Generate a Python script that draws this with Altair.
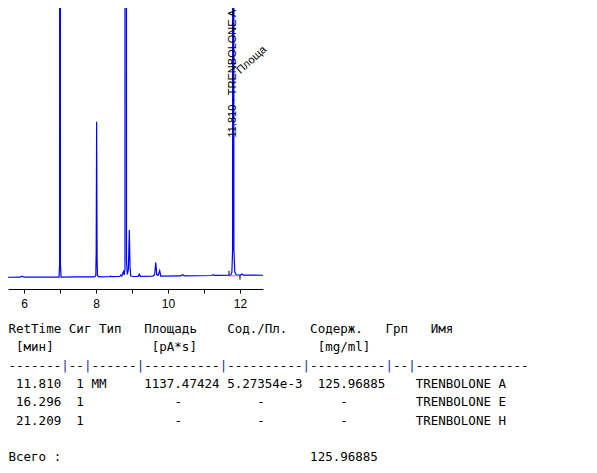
import altair as alt
import pandas as pd

# ---------------- chromatogram (time in min, signal in pA) ----------------
sig_t = [5.556, 5.90, 5.95, 6.00, 6.50, 6.975, 6.99, 6.997, 7.004, 7.012, 7.03,
         7.50, 7.96, 7.995, 8.006, 8.018, 8.03, 8.042, 8.08, 8.38, 8.40, 8.42,
         8.66, 8.69, 8.72, 8.76, 8.785, 8.805, 8.815, 8.835, 8.848, 8.87, 8.90,
         8.926, 8.945, 8.965, 9.05, 9.17, 9.20, 9.23, 9.58, 9.63, 9.66, 9.69,
         9.73, 9.77, 9.80, 10.35, 10.40, 10.45, 11.20, 11.25, 11.30, 11.74,
         11.775, 11.795, 11.803, 11.818, 11.83, 11.855, 11.90, 12.02, 12.05,
         12.09, 12.639]
sig_v = [4.18, 4.20, 4.55, 4.20, 4.22, 4.25, 9.0, 1000, 1000, 9.0, 4.25,
         4.28, 4.30, 4.8, 13.0, 59.5, 11.0, 4.7, 4.35, 4.40, 4.6, 4.40,
         4.45, 5.0, 4.6, 6.2, 5.0, 7.0, 1000, 1000, 10.0, 5.2, 7.0,
         21.0, 8.0, 4.6, 4.45, 4.5, 5.3, 4.5, 4.55, 5.2, 9.4, 5.0,
         4.9, 6.5, 4.6, 4.65, 5.1, 4.7, 4.8, 5.05, 4.85, 4.9,
         6.0, 14.0, 1000, 1000, 14.0, 6.0, 5.0, 4.95, 5.3,
         4.95, 4.9]

# integration baseline of the identified peak
int_t = [11.694, 12.0]
int_v = [4.7, 4.7]

# peak start / end markers
mark_t = [11.694, 12.0]
mark_top = [6.5, 5.0]
mark_bot = [4.7, 3.3]

# peak annotations
peak_lbl_t = [11.81]
peak_lbl_v = [53.9]
peak_lbl_text = ["11.810 - TRENBOLONE A"]
area_lbl_t = [11.958]
area_lbl_v = [77.2]
area_lbl_text = ["Площа"]

x_ticks = [6.0, 6.5, 7.0, 7.5, 8.0, 8.5, 9.0, 9.5, 10.0, 10.5, 11.0, 11.5, 12.0, 12.5]

# ---------------- report table ----------------
head_text = ["RetTime", "Сиг", "Тип", "Площадь", "Сод./Пл.", "Содерж.", "Грп", "Имя"]
head_col = [0, 8, 12, 18, 29, 40, 50, 56]
unit_text = ["[мин]", "[pA*s]", "[mg/ml]"]
unit_col = [1, 19, 41]
dash_len = [7, 2, 6, 10, 10, 10, 2, 15]
dash_col = [0, 8, 11, 18, 29, 40, 51, 54]
pipe_col = [7, 10, 17, 28, 39, 50, 53]

ret_time = ["11.810", "16.296", "21.209"]
signal = ["1", "1", "1"]
peak_type = ["MM", "", ""]
area = ["1137.47424", "-", "-"]
amt_area = ["5.27354e-3", "-", "-"]
amount = ["125.96885", "-", "-"]
names = ["TRENBOLONE A", "TRENBOLONE E", "TRENBOLONE H"]
total_label = "Всего :"
total_amount = "125.96885"

rows = []
for t, c in zip(head_text, head_col):
    rows.append({"text": t, "col": c, "row": 0, "color": "#000000"})
for t, c in zip(unit_text, unit_col):
    rows.append({"text": t, "col": c, "row": 1, "color": "#000000"})
for n, c in zip(dash_len, dash_col):
    rows.append({"text": "-" * n, "col": c, "row": 2, "color": "#000000"})
for c in pipe_col:
    rows.append({"text": "|", "col": c, "row": 2, "color": "#1a3590"})
for i in range(3):
    r = 3 + i
    rows.append({"text": ret_time[i], "col": 1, "row": r, "color": "#000000"})
    rows.append({"text": signal[i], "col": 9, "row": r, "color": "#000000"})
    if peak_type[i]:
        rows.append({"text": peak_type[i], "col": 11, "row": r, "color": "#000000"})
    rows.append({"text": area[i], "col": 18 if area[i] != "-" else 22, "row": r, "color": "#000000"})
    rows.append({"text": amt_area[i], "col": 29 if amt_area[i] != "-" else 33, "row": r, "color": "#000000"})
    rows.append({"text": amount[i], "col": 41 if amount[i] != "-" else 44, "row": r, "color": "#000000"})
    rows.append({"text": names[i], "col": 54, "row": r, "color": "#000000"})
rows.append({"text": total_label, "col": 0, "row": 7, "color": "#000000"})
rows.append({"text": total_amount, "col": 40, "row": 7, "color": "#000000"})
table_df = pd.DataFrame(rows)

sig_df = pd.DataFrame({"t": sig_t, "v": sig_v})
int_df = pd.DataFrame({"t": int_t, "v": int_v})
mk_df = pd.DataFrame({"t": mark_t, "top": mark_top, "bot": mark_bot})
plbl_df = pd.DataFrame({"t": peak_lbl_t, "v": peak_lbl_v, "text": peak_lbl_text})
albl_df = pd.DataFrame({"t": area_lbl_t, "v": area_lbl_v, "text": area_lbl_text})

xs = alt.Scale(domain=[5.556, 12.639], nice=False, zero=False)
ys = alt.Scale(domain=[0, 100], nice=False, zero=False)

x_axis = alt.Axis(
    values=x_ticks, title=None, grid=False, tickSize=4, tickColor="#000000",
    domainColor="#000000", labelColor="#000000", labelFont="Liberation Sans",
    labelFontSize=12, labelPadding=5, labelFlush=False, labelOverlap=False,
    labelExpr="datum.value % 2 === 0 ? format(datum.value, 'd') : ''",
)

line = alt.Chart(sig_df).mark_line(color="#0000ff", strokeWidth=1.2, clip=True).encode(
    x=alt.X("t:Q", scale=xs, axis=x_axis),
    y=alt.Y("v:Q", scale=ys, axis=None),
)
pink = alt.Chart(int_df).mark_line(color="#ff4dff", strokeWidth=1, clip=True).encode(
    x=alt.X("t:Q", scale=xs), y=alt.Y("v:Q", scale=ys)
)
marks = alt.Chart(mk_df).mark_rule(color="#000000", strokeWidth=1, clip=True).encode(
    x=alt.X("t:Q", scale=xs), y=alt.Y("top:Q", scale=ys), y2="bot:Q"
)
plabel = alt.Chart(plbl_df).mark_text(
    angle=270, align="left", baseline="middle", font="Liberation Sans",
    fontSize=11, color="#000000"
).encode(x=alt.X("t:Q", scale=xs), y=alt.Y("v:Q", scale=ys), text="text:N")
alabel = alt.Chart(albl_df).mark_text(
    angle=318, align="left", baseline="middle", font="Liberation Sans",
    fontSize=11, color="#000000"
).encode(x=alt.X("t:Q", scale=xs), y=alt.Y("v:Q", scale=ys), text="text:N")

chrom = alt.layer(line, pink, marks, plabel, alabel)

table = alt.Chart(table_df).mark_text(
    align="left", baseline="middle", font="DejaVu Sans Mono", fontSize=12.5
).encode(
    x=alt.X("col:Q", scale=alt.Scale(domain=[0, 69], range=[0.5, 520.8], nice=False, zero=False), axis=None),
    y=alt.Y("row:Q", scale=alt.Scale(domain=[0, 7], range=[321, 449.3], nice=False, zero=False), axis=None),
    text="text:N",
    color=alt.Color("color:N", scale=None),
)

chart = alt.layer(chrom, table).resolve_scale(
    x="independent", y="independent"
).properties(
    width=255, height=281,
    padding={"left": 0, "top": 0, "right": 320, "bottom": 174},
    autosize=alt.AutoSizeParams(type="none"),
    background="white",
).configure_view(stroke=None)

chart.save("out.html", embed_options={"renderer": "svg", "actions": False})
